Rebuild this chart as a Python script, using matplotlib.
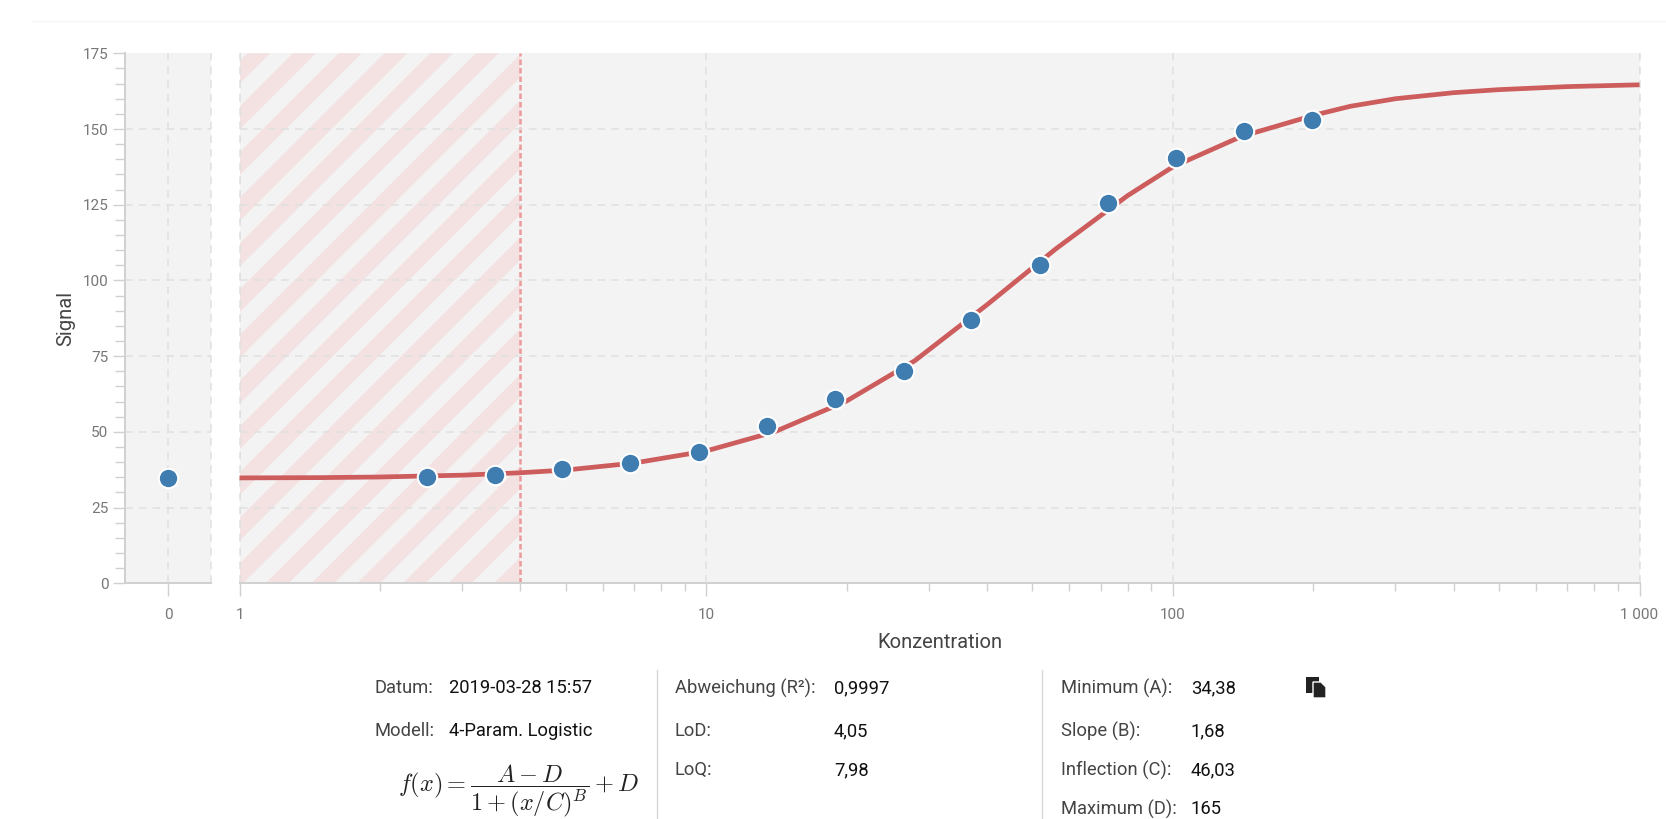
import matplotlib
matplotlib.use("Agg")
import matplotlib.pyplot as plt
from matplotlib.patches import Polygon, Rectangle
from matplotlib.lines import Line2D
from matplotlib.transforms import IdentityTransform

plt.rcParams["font.family"] = ["Roboto", "DejaVu Sans"]
plt.rcParams["mathtext.fontset"] = "cm"

W, H = 1666, 819

# standard at zero concentration
zero_x = [0]
zero_y = [34.8]

# measured standards
conc = [2.52, 3.52, 4.92, 6.88, 9.63, 13.5, 18.9, 26.5, 37.0, 51.8, 72.8, 101.8, 142.4, 199]
signal = [35.0, 35.6, 37.9, 39.6, 43.5, 52.0, 60.7, 70.2, 87.0, 105.0, 125.7, 140.4, 149.2, 153.0]

# fitted curve
curve_x = [1, 1.5, 2, 3, 4, 5, 7, 10, 14, 20, 28, 40, 56, 80, 100, 140, 200, 240, 300, 400, 500, 700, 1000]
curve_y = [34.8, 34.9, 35.1, 35.7, 36.5, 37.4, 39.7, 43.7, 50.0, 60.2, 73.5, 92.0, 110.3, 128.0, 137.5, 147.5, 154.5, 157.5, 160.0, 162.0, 163.0, 164.0, 164.6]

lod_x = 4

y_major = [0, 25, 50, 75, 100, 125, 150, 175]
y_minor = [v for v in range(0, 176, 5) if v % 25]
x_major = [1, 10, 100, 1000]
x_labels = ["1", "10", "100", "1 000"]
x_minor = [m * d for d in [1, 10, 100] for m in range(2, 10)]

col1 = [("Datum:", "2019-03-28 15:57"), ("Modell:", "4-Param. Logistic")]
col2 = [("Abweichung (R²):", "0,9997"), ("LoD:", "4,05"), ("LoQ:", "7,98")]
col3 = [("Minimum (A):", "34,38"), ("Slope (B):", "1,68"), ("Inflection (C):", "46,03"), ("Maximum (D):", "165")]
row_y = [688, 731, 770, 809]

BG = "#f3f3f3"
GRID = "#e0e0e0"
AXIS = "#d0d0d0"
TICK_TXT = "#777777"
RED = "#cd5c5c"
BLUE = "#3f7cb0"


def add_ax(x0, x1, y0, y1):
    # pixel box, y counted from top of image
    return fig.add_axes([x0 / W, 1 - y1 / H, (x1 - x0) / W, (y1 - y0) / H])


fig = plt.figure(figsize=(W / 100, H / 100), dpi=100)
fig.patch.set_facecolor("white")

top, bottom = 53.3, 583.3
ax0 = add_ax(125, 211, top, bottom)
ax1 = add_ax(239.5, 1639.5, top, bottom)

for ax in (ax0, ax1):
    ax.set_facecolor(BG)
    ax.set_ylim(0, 175)
    ax.set_yticks(y_major)
    ax.set_yticks(y_minor, minor=True)
    ax.grid(True, which="major", color=GRID, lw=1.1, ls=(0, (5, 4)), zorder=1)
    ax.set_axisbelow(False)
    # no dashes on the top and bottom edge
    ax.get_ygridlines()[0].set_visible(False)
    ax.get_ygridlines()[-1].set_visible(False)
    for s in ("top", "right"):
        ax.spines[s].set_visible(False)
    for s in ("left", "bottom"):
        ax.spines[s].set_color(AXIS)
        ax.spines[s].set_linewidth(1.4)
    ax.tick_params(axis="x", which="major", length=9, width=1, color=AXIS, labelcolor=TICK_TXT, labelsize=11, pad=9)
    ax.tick_params(axis="x", which="minor", length=6, width=1, color=AXIS)
    ax.tick_params(axis="y", which="major", length=9, width=1, color=AXIS, labelcolor=TICK_TXT, labelsize=11, pad=3)
    ax.tick_params(axis="y", which="minor", length=7, width=1, color=AXIS)

# left panel with the zero point
ax0.set_xlim(-1, 1)
ax0.set_xticks(zero_x)
ax0.set_xticklabels(["0"])
ax0.axvline(1, color=GRID, lw=1.1, ls=(0, (5, 4)), clip_on=False, zorder=1)
ax0.plot(zero_x, zero_y, "o", color=BLUE, ms=14, mec="white", mew=1.5, zorder=5)
ax0.set_ylabel("Signal", fontsize=14.5, color="#444444", labelpad=5)

# log panel
ax1.set_xscale("log")
ax1.set_xlim(1, 1000)
ax1.set_xticks(x_major)
ax1.set_xticklabels(x_labels)
ax1.set_xticks(x_minor, minor=True)
ax1.set_xticklabels([], minor=True)
ax1.spines["left"].set_visible(False)
ax1.tick_params(axis="y", which="both", left=False, labelleft=False)
ax1.set_xlabel("Konzentration", fontsize=14.5, color="#444444", labelpad=8)
ax1.axvline(1, color=GRID, lw=1.1, ls=(0, (5, 4)), clip_on=False, zorder=1)
ax1.axvline(1000, color=GRID, lw=1.1, ls=(0, (5, 4)), clip_on=False, zorder=1)

# striped area below LoD
clip = Rectangle((1, 0), lod_x - 1, 175, transform=ax1.transData)
period, sw = 45.7, 22.8
for k in range(-2, 18):
    c = 293 + period * k
    # stripe edges in pixels: x + y_from_top = const
    pts = []
    for xa, ya in [(c, top), (c + sw, top), (c + sw - 540, top + 540), (c - 540, top + 540)]:
        pts.append((xa, H - ya))
    p = Polygon(pts, closed=True, transform=IdentityTransform(), facecolor="#f4e1e1", edgecolor="none", zorder=0.5)
    ax1.add_patch(p)
    p.set_clip_path(clip)
ax1.axvline(lod_x, color="#ec9a9a", lw=1.8, ls=(0, (2.2, 1.2)), zorder=2)

ax1.plot(curve_x, curve_y, color=RED, lw=3.4, zorder=4, solid_capstyle="butt", clip_on=False)
ax1.plot(conc, signal, "o", color=BLUE, ms=14, mec="white", mew=1.5, zorder=5)

# faint line on top of the page
fig.add_artist(Line2D([32 / W, 1], [1 - 20.5 / H] * 2, color="#f6f6f6", lw=1))


# info table below the chart
def txt(x, y, s, color):
    fig.text(x / W, 1 - y / H, s, ha="left", va="center", fontsize=13.2, color=color)


for (lab, val), y in zip(col1, row_y):
    txt(374.5, y, lab, "#444444")
    txt(449, y, val, "#111111")
for (lab, val), y in zip(col2, row_y):
    txt(675, y, lab, "#444444")
    txt(834, y, val, "#111111")
for (lab, val), y in zip(col3, row_y):
    txt(1061, y, lab, "#444444")
    txt(1191, y, val, "#111111")

fig.text(519 / W, 1 - 791 / H, r"$f(x) = \dfrac{A - D}{1 + (x/C)^B} + D$", ha="center", va="center", fontsize=17.5, color="#222222")

for xv in (656.5, 1042):
    fig.add_artist(Line2D([xv / W] * 2, [0, 1 - 670 / H], color="#d8d8d8", lw=1))

# copy icon
fig.add_artist(Rectangle((1306 / W, 1 - 693 / H), 13 / W, 16 / H, transform=fig.transFigure, facecolor="#222222", edgecolor="none"))
fig.add_artist(Polygon([(1313 / W, 1 - 698 / H), (1326 / W, 1 - 698 / H), (1326 / W, 1 - 687 / H), (1321 / W, 1 - 682 / H), (1313 / W, 1 - 682 / H)],
                       closed=True, transform=fig.transFigure, facecolor="#222222", edgecolor="white", lw=1))

fig.savefig("out.png", dpi=100)
